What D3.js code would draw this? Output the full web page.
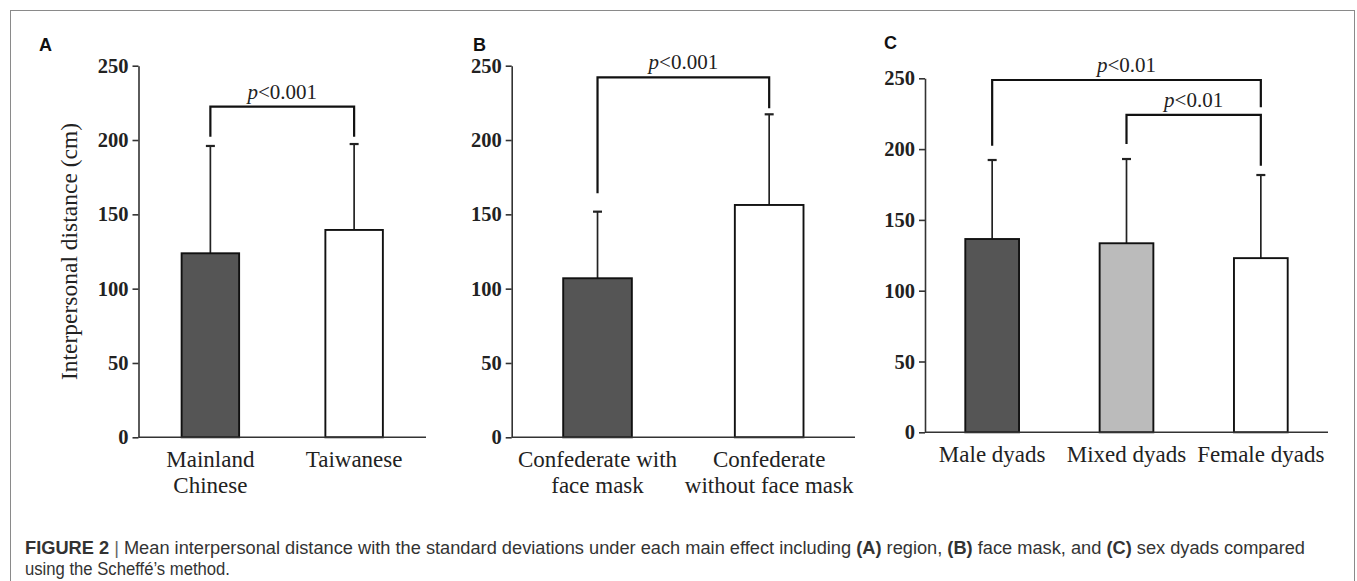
<!DOCTYPE html>
<html>
<head>
<meta charset="utf-8">
<script src="https://cdn.jsdelivr.net/npm/d3@7"></script>
<style>
  html, body { margin: 0; padding: 0; background: #fff; }
  svg { display: block; }
</style>
</head>
<body>
<svg id="chart" width="1357" height="581"></svg>
<script>
// ---- Data ----
const yTicks = [0, 50, 100, 150, 200, 250];

const regionCategories = [["Mainland", "Chinese"], ["Taiwanese"]];
const regionMeans = [123.8, 139.5];
const regionSD = [72.2, 57.8];
const regionColors = ["#555555", "#ffffff"];

const maskCategories = [["Confederate with", "face mask"], ["Confederate", "without face mask"]];
const maskMeans = [107, 156.3];
const maskSD = [44.8, 61];
const maskColors = ["#555555", "#ffffff"];

const dyadCategories = [["Male dyads"], ["Mixed dyads"], ["Female dyads"]];
const dyadMeans = [136.5, 133.5, 123];
const dyadSD = [55.8, 59.5, 58.7];
const dyadColors = ["#555555", "#bbbbbb", "#ffffff"];

// brackets: from bar index, to bar index, top level, left end, right end (data units), label
const regionBrackets = [{ a: 0, b: 1, top: 222.4, endA: 202.2, endB: 202.2, label: "<0.001" }];
const maskBrackets = [{ a: 0, b: 1, top: 242.2, endA: 164.2, endB: 221.3, label: "<0.001" }];
const dyadBrackets = [
  { a: 0, b: 2, top: 248.8, endA: 202.4, endB: 229.5, label: "<0.01" },
  { a: 1, b: 2, top: 224.1, endA: 203.6, endB: 188.3, label: "<0.01" }
];

const panels = [
  { letter: "A", letterX: 39, letterY: 51, x0: 138.5, x1: 426, y0: 437.3, y1: 65.7,
    cats: regionCategories, means: regionMeans, sd: regionSD, colors: regionColors,
    brackets: regionBrackets, ylabel: "Interpersonal distance (cm)" },
  { letter: "B", letterX: 473, letterY: 50.5, x0: 511.7, x1: 855, y0: 437.3, y1: 65.7,
    cats: maskCategories, means: maskMeans, sd: maskSD, colors: maskColors,
    brackets: maskBrackets },
  { letter: "C", letterX: 884, letterY: 49, x0: 925, x1: 1328, y0: 432.3, y1: 78.3,
    cats: dyadCategories, means: dyadMeans, sd: dyadSD, colors: dyadColors,
    brackets: dyadBrackets }
];

const svg = d3.select("#chart");
const serif = "'Liberation Serif', 'Times New Roman', serif";
const sans = "'Liberation Sans', Arial, Helvetica, sans-serif";

// Frame
svg.append("rect")
  .attr("x", 10.5).attr("y", 10.5)
  .attr("width", 1344).attr("height", 600)
  .attr("fill", "none").attr("stroke", "#8a8a8a").attr("stroke-width", 1);

panels.forEach(p => {
  const g = svg.append("g");
  const n = p.means.length;
  const x = d3.scaleBand().domain(d3.range(n)).range([p.x0, p.x1])
    .paddingInner(0.6).paddingOuter(0.3);
  const y = d3.scaleLinear().domain([0, 250]).range([p.y0, p.y1]);
  const cx = i => x(i) + x.bandwidth() / 2;

  // panel letter
  g.append("text").attr("x", p.letterX).attr("y", p.letterY)
    .attr("font-family", sans).attr("font-weight", "bold").attr("font-size", 18)
    .attr("fill", "#111").text(p.letter);

  // error bars (behind bars)
  const capW = 9;
  p.means.forEach((m, i) => {
    const top = y(m + p.sd[i]);
    g.append("line").attr("x1", cx(i)).attr("x2", cx(i))
      .attr("y1", y(m)).attr("y2", top)
      .attr("stroke", "#222").attr("stroke-width", 1.7);
    g.append("line").attr("x1", cx(i) - capW / 2).attr("x2", cx(i) + capW / 2)
      .attr("y1", top).attr("y2", top)
      .attr("stroke", "#222").attr("stroke-width", 2.2);
  });

  // bars
  g.selectAll("rect.bar").data(p.means).enter().append("rect")
    .attr("class", "bar")
    .attr("x", (d, i) => x(i))
    .attr("y", d => y(d))
    .attr("width", x.bandwidth())
    .attr("height", d => y(0) - y(d))
    .attr("fill", (d, i) => p.colors[i])
    .attr("stroke", "#111").attr("stroke-width", 1.9);

  // y axis
  const yAxis = d3.axisLeft(y).tickValues(yTicks).tickSize(6).tickPadding(4).tickSizeOuter(0);
  const ya = g.append("g").attr("transform", `translate(${p.x0},0)`).call(yAxis);
  ya.select(".domain").attr("stroke", "#333").attr("stroke-width", 1.6);
  ya.selectAll(".tick line").attr("stroke", "#333").attr("stroke-width", 1.6);
  ya.selectAll(".tick text").attr("font-family", serif).attr("font-size", 20.5)
    .attr("font-weight", "bold").attr("fill", "#222");

  // x axis baseline
  const xAxis = d3.axisBottom(x).tickSize(0).tickFormat("").tickSizeOuter(0);
  const xa = g.append("g").attr("transform", `translate(0,${p.y0})`).call(xAxis);
  xa.select(".domain").attr("d", `M${p.x0},0H${p.x1}`)
    .attr("stroke", "#333").attr("stroke-width", 1.6);

  // x labels
  p.cats.forEach((lines, i) => {
    const t = g.append("text").attr("text-anchor", "middle")
      .attr("font-family", serif).attr("font-size", 23).attr("fill", "#222");
    lines.forEach((ln, k) => {
      t.append("tspan").attr("x", cx(i)).attr("y", p.y0 + 29.5 + k * 26).text(ln);
    });
  });

  // y label
  if (p.ylabel) {
    g.append("text")
      .attr("transform", `translate(77,${(p.y0 + p.y1) / 2}) rotate(-90)`)
      .attr("text-anchor", "middle")
      .attr("font-family", serif).attr("font-size", 23.5).attr("fill", "#222")
      .text(p.ylabel);
  }

  // significance brackets
  p.brackets.forEach(b => {
    const xa_ = cx(b.a), xb_ = cx(b.b);
    g.append("path")
      .attr("d", `M${xa_},${y(b.endA)}V${y(b.top)}H${xb_}V${y(b.endB)}`)
      .attr("fill", "none").attr("stroke", "#111").attr("stroke-width", 2.2);
    const t = g.append("text").attr("x", (xa_ + xb_) / 2).attr("y", y(b.top) - 8)
      .attr("text-anchor", "middle")
      .attr("font-family", serif).attr("font-size", 21).attr("fill", "#222");
    t.append("tspan").attr("font-style", "italic").text("p");
    t.append("tspan").text(b.label);
  });
});

// Caption
const cap1 = svg.append("text").attr("x", 25).attr("y", 554)
  .attr("font-family", sans).attr("font-size", 17.5).attr("fill", "#333")
  .attr("textLength", 1280).attr("lengthAdjust", "spacingAndGlyphs");
cap1.append("tspan").attr("font-weight", "bold").text("FIGURE 2");
cap1.append("tspan").attr("fill", "#666").text(" | ");
cap1.append("tspan").text("Mean interpersonal distance with the standard deviations under each main effect including ");
cap1.append("tspan").attr("font-weight", "bold").text("(A)");
cap1.append("tspan").text(" region, ");
cap1.append("tspan").attr("font-weight", "bold").text("(B)");
cap1.append("tspan").text(" face mask, and ");
cap1.append("tspan").attr("font-weight", "bold").text("(C)");
cap1.append("tspan").text(" sex dyads compared");

svg.append("text").attr("x", 25).attr("y", 575)
  .attr("font-family", sans).attr("font-size", 17.5).attr("fill", "#333")
  .attr("textLength", 205).attr("lengthAdjust", "spacingAndGlyphs")
  .text("using the Scheffé’s method.");
</script>
</body>
</html>
